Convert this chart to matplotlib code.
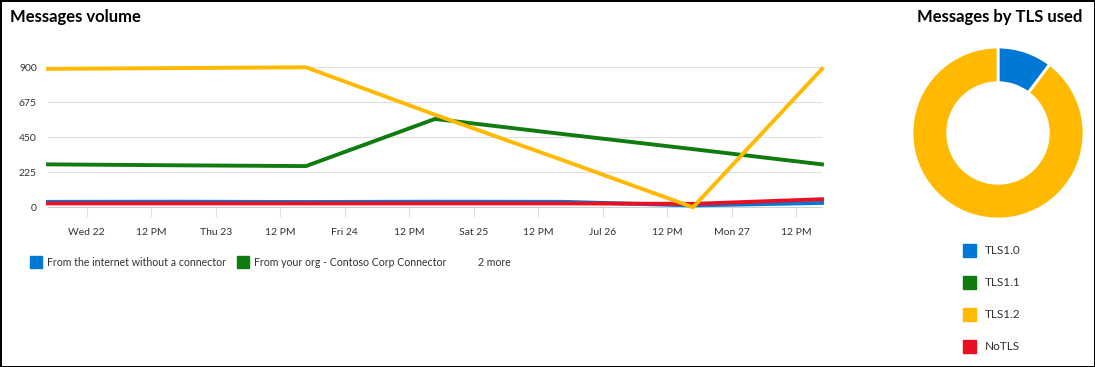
import numpy as np
import matplotlib
matplotlib.use("Agg")
import matplotlib.pyplot as plt
from matplotlib.patches import Rectangle

plt.rcParams['font.family'] = ['Lato', 'DejaVu Sans']

# hours since Wed 22 00:00, one point per day
hours = [-7.2, 16.8, 40.8, 64.8, 88.8, 112.8, 136.8]
series_names = ["From the internet without a connector",
                "From your org - Contoso Corp Connector",
                "TLS mail", "Other"]
internet = [35, 36, 34, 36, 35, 12, 28]
contoso = [276, 270, 265, 568, 470, 374, 276]
yellow_vals = [890, 895, 900, 595, 300, 0, 890]
red_vals = [25, 25, 25, 25, 25, 22, 52]

xtick_pos = list(range(0, 133, 12))
xtick_labels = ["Wed 22", "12 PM", "Thu 23", "12 PM", "Fri 24", "12 PM",
                "Sat 25", "12 PM", "Jul 26", "12 PM", "Mon 27", "12 PM"]
ytick_pos = [0, 225, 450, 675, 900]

tls_labels = ["TLS1.0", "TLS1.1", "TLS1.2", "NoTLS"]
tls_values = [11, 0, 96, 0]

c_blue = "#0078d4"
c_green = "#107c10"
c_yellow = "#ffb900"
c_red = "#e81123"
txt = "#323130"

W, H = 1095, 367
fig = plt.figure(figsize=(W / 100, H / 100), dpi=100)
fig.patch.set_facecolor("white")
fig.patch.set_edgecolor("black")
fig.patch.set_linewidth(2)

# line chart
ax = fig.add_axes([48 / W, 1 - 207.3 / H, (822 - 48) / W, 140 / H])
for yv in ytick_pos[1:]:
    ax.axhline(yv, color="#e1dfdd", lw=0.8, zorder=0)
ax.plot(hours, contoso, color=c_green, lw=2.8, clip_on=False, zorder=2)
ax.plot(hours, internet, color=c_blue, lw=2.8, clip_on=False, zorder=3)
ax.plot(hours, red_vals, color=c_red, lw=2.8, clip_on=False, zorder=4)
ax.plot(hours, yellow_vals, color=c_yellow, lw=2.8, clip_on=False, zorder=5)
ax.set_xlim(hours[0], hours[-1])
ax.set_ylim(0, 900)
for s in ["top", "right", "left"]:
    ax.spines[s].set_visible(False)
ax.spines["bottom"].set_color("#d2d0ce")
ax.spines["bottom"].set_linewidth(0.8)
ax.set_xticks(xtick_pos)
ax.set_xticklabels(xtick_labels)
ax.set_yticks(ytick_pos)
ax.tick_params(axis="x", length=7, width=0.8, color="#e1dfdd", pad=8,
               labelsize=7.5, labelcolor=txt)
ax.tick_params(axis="y", length=0, pad=8, labelsize=7.5, labelcolor=txt)

fig.text(10 / W, 1 - 17 / H, "Messages volume", fontsize=12, fontweight="bold",
         color="black", va="center", ha="left")

# bottom legend (two entries + "2 more")
leg_items = [(30, series_names[0], c_blue), (237, series_names[1], c_green)]
for x0, name, col in leg_items:
    fig.add_artist(Rectangle((x0 / W, 1 - 268 / H), 12 / W, 12 / H,
                             transform=fig.transFigure, color=col))
    fig.text((x0 + 17) / W, 1 - 262 / H, name, fontsize=7.6, color=txt,
             va="center", ha="left")
fig.text(478 / W, 1 - 262 / H, "%d more" % (len(series_names) - 2),
         fontsize=7.6, color=txt, va="center", ha="left")

# donut chart
cx, cy, r = 998, 133, 86
pax = fig.add_axes([(cx - r) / W, 1 - (cy + r) / H, 2 * r / W, 2 * r / H])
tls_colors = [c_blue, c_green, c_yellow, c_red]
vals = [v for v in tls_values if v > 0]
cols = [c for v, c in zip(tls_values, tls_colors) if v > 0]
pax.pie(vals, colors=cols, startangle=90, counterclock=False,
        wedgeprops=dict(width=0.415, edgecolor="white", linewidth=2))
pax.set_xlim(-1, 1)
pax.set_ylim(-1, 1)
pax.axis("off")

fig.text(1082 / W, 1 - 17 / H, "Messages by TLS used", fontsize=12,
         fontweight="bold", color="black", va="center", ha="right")

for i, (lab, col) in enumerate(zip(tls_labels, tls_colors)):
    yc = 251 + i * 32
    fig.add_artist(Rectangle((963 / W, 1 - (yc + 6) / H), 13 / W, 13 / H,
                             transform=fig.transFigure, color=col))
    fig.text(985 / W, 1 - yc / H, lab, fontsize=8.5, color=txt,
             va="center", ha="left")

fig.savefig("out.png", dpi=100)
